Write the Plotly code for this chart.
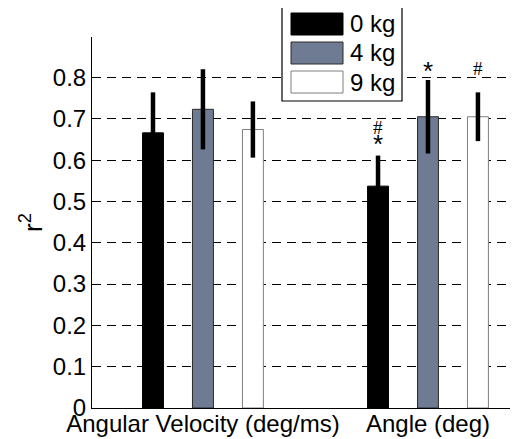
import plotly.graph_objects as go

# ---- data ----
categories = ["Angular Velocity (deg/ms)", "Angle (deg)"]
series_names = ["0 kg", "4 kg", "9 kg"]
means = {
    "0 kg": [0.666, 0.537],
    "4 kg": [0.723, 0.705],
    "9 kg": [0.674, 0.705],
}
errors = {
    "0 kg": [0.098, 0.074],
    "4 kg": [0.097, 0.089],
    "9 kg": [0.068, 0.059],
}
y_ticks = [0, 0.1, 0.2, 0.3, 0.4, 0.5, 0.6, 0.7, 0.8]
y_tick_labels = ["0", "0.1", "0.2", "0.3", "0.4", "0.5", "0.6", "0.7", "0.8"]
# significance markers: (category index, series index, text, value)
sig_marks = [
    (1, 0, "#", 0.678),
    (1, 0, "*", 0.651),
    (1, 1, "*", 0.827),
    (1, 2, "#", 0.822),
]

# ---- style ----
fill_colors = {"0 kg": "#000000", "4 kg": "#6e7b93", "9 kg": "#ffffff"}
line_colors = {"0 kg": "#000000", "4 kg": "#2b2b2b", "9 kg": "#7f7f7f"}
offsets = [-0.222, 0.0, 0.222]
bar_width = 0.093
FONT = "Arial, 'Liberation Sans', sans-serif"

# page is rendered with the browser's default 8px body margin
BODY = 8
PAGE_W, PAGE_H = 518, 439
PLOT_L, PLOT_T, PLOT_B = 92, 37, 408  # plot area in page pixels
W, H = PAGE_W - BODY, PAGE_H - BODY
L, T = PLOT_L - BODY, PLOT_T - BODY
R = 0
B = H - (PLOT_B - BODY)
pw, ph = W - L - R, H - T - B


def px(xp):
    return (xp - PLOT_L) / pw


def py(yp):
    return (PLOT_B - yp) / ph


x_pos = [1, 2]
fig = go.Figure()
for si, name in enumerate(series_names):
    fig.add_trace(go.Bar(
        x=[x + offsets[si] for x in x_pos],
        y=means[name],
        width=bar_width,
        name=name,
        marker=dict(color=fill_colors[name], line=dict(color=line_colors[name], width=1)),
        error_y=dict(type="data", array=errors[name], visible=True,
                     color="black", thickness=4.5, width=0),
        showlegend=False,
    ))

for ci, si, txt, val in sig_marks:
    is_hash = txt == "#"
    fig.add_annotation(
        x=x_pos[ci] + offsets[si], y=val, xref="x", yref="y",
        text=txt, showarrow=False,
        font=dict(family="'Liberation Serif', 'Times New Roman', serif" if is_hash else FONT,
                  size=19 if is_hash else 26, color="black"),
        yanchor="middle", yshift=0 if is_hash else -5,
    )

# custom legend (large swatches like the original)
fig.add_shape(type="rect", xref="paper", yref="paper",
              x0=px(282), x1=px(402), y0=py(101), y1=py(7),
              line=dict(color="black", width=1.2), fillcolor="white", layer="above")
row_tops = [13, 42, 71]
for i, name in enumerate(series_names):
    y0 = row_tops[i]
    fig.add_shape(type="rect", xref="paper", yref="paper",
                  x0=px(291), x1=px(343), y0=py(y0 + 22), y1=py(y0),
                  line=dict(color=line_colors[name], width=1),
                  fillcolor=fill_colors[name], layer="above")
    fig.add_annotation(xref="paper", yref="paper", x=px(348), y=py(y0 + 11),
                       text=name, showarrow=False, xanchor="left", yanchor="middle",
                       font=dict(family=FONT, size=24, color="black"))

fig.update_layout(
    width=W, height=H,
    margin=dict(l=L, r=R, t=T, b=B, pad=0),
    plot_bgcolor="white", paper_bgcolor="white",
    barmode="overlay",
    font=dict(family=FONT, size=24, color="black"),
    showlegend=False,
)
fig.update_xaxes(
    range=[0.507, 2.4], tickvals=x_pos, ticktext=categories,
    showgrid=False, showline=True, linecolor="black", linewidth=1,
    ticks="", tickfont=dict(size=24), automargin=False, zeroline=False,
    ticklabelstandoff=-6,
)
fig.update_yaxes(
    range=[0, 0.898], tickvals=y_ticks, ticktext=y_tick_labels,
    showgrid=True, gridcolor="black", gridwidth=1, griddash="9px,6px",
    showline=True, linecolor="black", linewidth=1,
    ticks="inside", ticklen=5, tickcolor="black",
    tickfont=dict(size=24), automargin=False, zeroline=False,
    title=dict(text="r<sup>2</sup>", font=dict(size=26), standoff=2),
)

fig.write_html("out.html")
